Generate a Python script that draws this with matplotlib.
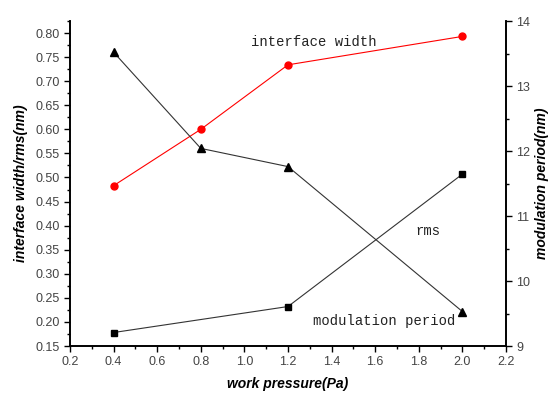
import matplotlib.pyplot as plt
from matplotlib.ticker import MultipleLocator

# work pressure (Pa)
pressure = [0.4, 0.8, 1.2, 2.0]
interface_width = [0.483, 0.600, 0.734, 0.793]
rms_pressure = [0.4, 1.2, 2.0]
rms = [0.178, 0.232, 0.507]
modulation_period = [13.52, 12.04, 11.76, 9.53]

plt.rcParams['font.family'] = ['Liberation Sans', 'DejaVu Sans']

fig = plt.figure(figsize=(5.52, 3.94), dpi=100)
ax = fig.add_axes([0.1268, 0.1218, 0.7899, 0.8249])
ax2 = ax.twinx()

ax.plot(pressure, interface_width, color='red', lw=0.8, marker='o', ms=5)
ax.plot(rms_pressure, rms, color='#333333', lw=0.8, marker='s', ms=4.5, mfc='black', mec='black')
ax2.plot(pressure, modulation_period, color='#333333', lw=0.8, marker='^', ms=5.5, mfc='black', mec='black')

ax.set_xlim(0.2, 2.2)
ax.set_ylim(0.15, 0.825)
ax2.set_ylim(9, 14)

ax.xaxis.set_minor_locator(MultipleLocator(0.1))
ax.yaxis.set_minor_locator(MultipleLocator(0.025))
ax2.yaxis.set_major_locator(MultipleLocator(1))
ax2.yaxis.set_minor_locator(MultipleLocator(0.5))

ax.set_yticks([0.15 + 0.05 * i for i in range(14)])
ax.set_yticklabels(['%.2f' % (0.15 + 0.05 * i) for i in range(14)])
ax.set_xticks([0.2 + 0.2 * i for i in range(11)])
ax.set_xticklabels(['%.1f' % (0.2 + 0.2 * i) for i in range(11)])

for a in (ax, ax2):
    a.tick_params(which='major', length=4, width=1, labelsize=9, labelcolor='#444444')
    a.tick_params(which='minor', length=2.5, width=1)
    a.spines['top'].set_visible(False)
    for s in ('left', 'right', 'bottom'):
        a.spines[s].set_linewidth(1.2)

ax.set_xlabel('work pressure(Pa)', fontsize=10, fontweight='bold', style='italic', labelpad=6)
ax.set_ylabel('interface width/rms(nm)', fontsize=10, fontweight='bold', style='italic', labelpad=5)
ax2.set_ylabel('modulation period(nm)', fontsize=10, fontweight='bold', style='italic', labelpad=3)

mono = ['Liberation Mono', 'DejaVu Sans Mono']
ax.text(1.32, 0.781, 'interface width', family=mono, fontsize=10, ha='center', va='center', color='#222222')
ax.text(1.84, 0.389, 'rms', family=mono, fontsize=10, ha='center', va='center', color='#222222')
ax.text(1.64, 0.202, 'modulation period', family=mono, fontsize=10, ha='center', va='center', color='#222222')

fig.savefig('out.png', dpi=100)
